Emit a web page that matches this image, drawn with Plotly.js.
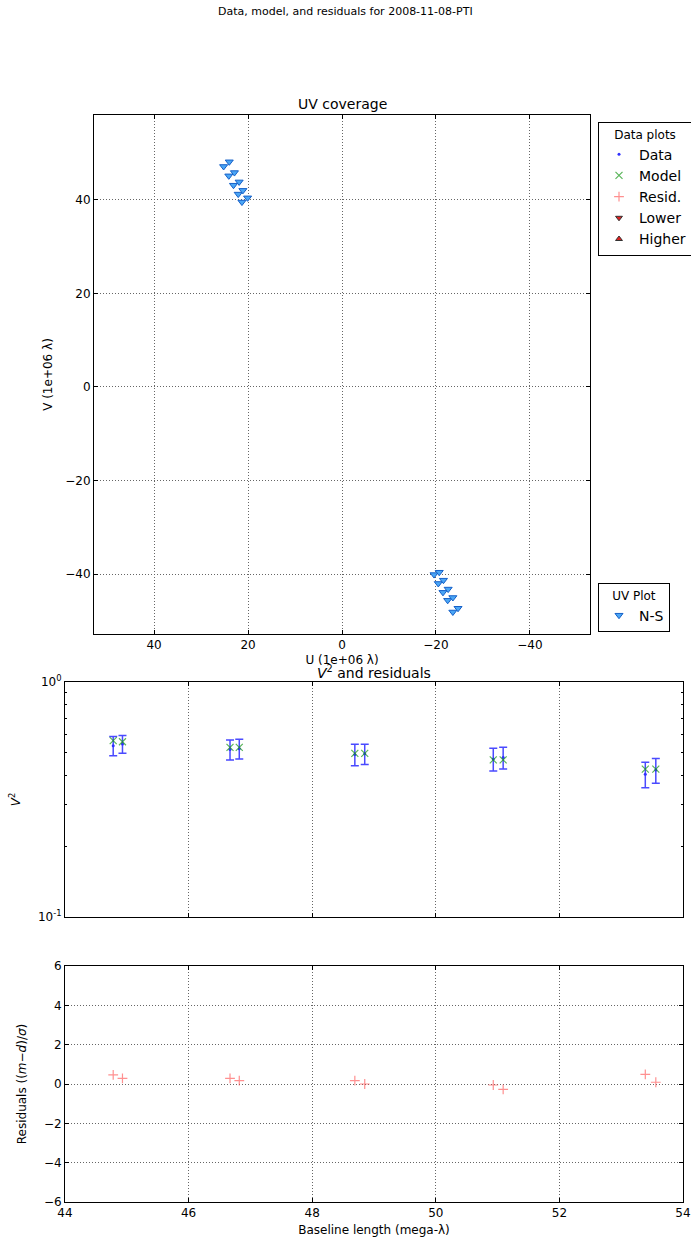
<!DOCTYPE html>
<html>
<head>
<meta charset="utf-8">
<script src="https://cdn.plot.ly/plotly-3.0.1.min.js"></script>
<style>html,body{margin:0;padding:0;background:#fff;}#chart{width:691px;height:1245px;}</style>
</head>
<body>
<div id="chart"></div>
<script>
// UV coverage (1e+06 lambda), N-S baseline
const uvU = [25.2, 24.0, 24.1, 22.9, 23.1, 21.9, 22.1, 21.1, 21.3, 20.1,
             -19.6, -20.7, -20.5, -21.6, -21.5, -22.6, -22.5, -23.6, -23.6, -24.7];
const uvV = [47.1, 48.1, 45.1, 45.8, 43.1, 43.8, 41.2, 42.0, 39.5, 40.4,
             -40.1, -39.6, -42.0, -41.3, -43.9, -43.2, -45.6, -45.0, -48.1, -47.3];

// Baseline length (mega-lambda)
const baseline = [44.78, 44.93, 46.67, 46.82, 48.69, 48.85, 50.93, 51.09, 53.39, 53.56];
// Squared visibility: data, errors, model
const v2Data  = [0.536, 0.545, 0.516, 0.520, 0.492, 0.495, 0.470, 0.477, 0.405, 0.422];
const v2Err   = [0.050, 0.047, 0.050, 0.050, 0.052, 0.049, 0.052, 0.051, 0.050, 0.051];
const v2Model = [0.563, 0.557, 0.527, 0.527, 0.497, 0.497, 0.466, 0.466, 0.426, 0.426];
// Residuals (m-d)/sigma
const resid   = [0.46, 0.29, 0.29, 0.17, 0.17, 0.00, -0.05, -0.27, 0.49, 0.09];

const uvTicks = [-40, -20, 0, 20, 40];
const resTicks = [-6, -4, -2, 0, 2, 4, 6];
const blTicks = [44, 46, 48, 50, 52, 54];
const v2Major = [0.1, 1];
const v2MajorText = ['10<sup>-1</sup>', '10<sup>0</sup>'];
const v2Minor = [0.2, 0.3, 0.4, 0.5, 0.6, 0.7, 0.8, 0.9];

const W = 691, H = 1245;
const px = x => x / W;
const py = y => 1 - y / H;

const font = {family: 'DejaVu Sans', size: 12, color: '#000'};
const gridStyle = {showgrid: true, gridcolor: '#666', griddash: '1px,2px', gridwidth: 1};
const axBase = {
  showline: true, linecolor: '#000', linewidth: 1, mirror: 'allticks',
  ticks: 'inside', ticklen: 4, tickcolor: '#000', zeroline: false,
  tickfont: {family: 'DejaVu Sans', size: 12, color: '#000'}
};

const traces = [
  {
    type: 'scatter', mode: 'markers', x: uvU, y: uvV, xaxis: 'x', yaxis: 'y',
    name: 'N-S', legend: 'legend2',
    marker: {symbol: 'triangle-down', size: 7, color: '#4aa6f5', line: {color: '#1560c8', width: 1}}
  },
  {
    type: 'scatter', mode: 'markers', x: baseline, y: v2Data, xaxis: 'x2', yaxis: 'y2',
    name: 'Data', legend: 'legend',
    marker: {size: 3, color: '#3030ff'},
    error_y: {type: 'data', array: v2Err, visible: true, color: '#4a4aff', thickness: 1.5, width: 4}
  },
  {
    type: 'scatter', mode: 'markers', x: baseline, y: v2Model, xaxis: 'x2', yaxis: 'y2',
    name: 'Model', legend: 'legend',
    marker: {symbol: 'x-thin-open', size: 7, color: 'rgba(20,150,20,0.7)', line: {width: 1.2, color: 'rgba(20,150,20,0.7)'}}
  },
  {
    type: 'scatter', mode: 'markers', x: baseline, y: resid, xaxis: 'x3', yaxis: 'y3',
    name: 'Resid.', legend: 'legend',
    marker: {symbol: 'cross-thin-open', size: 7, color: 'rgba(255,70,70,0.6)', line: {width: 1.2, color: 'rgba(255,70,70,0.6)'}}
  },
  {
    type: 'scatter', mode: 'markers', x: [null], y: [null], xaxis: 'x3', yaxis: 'y3',
    name: 'Lower', legend: 'legend',
    marker: {symbol: 'triangle-down', size: 6, color: '#e02020', line: {color: '#333', width: 1}}
  },
  {
    type: 'scatter', mode: 'markers', x: [null], y: [null], xaxis: 'x3', yaxis: 'y3',
    name: 'Higher', legend: 'legend',
    marker: {symbol: 'triangle-up', size: 6, color: '#e02020', line: {color: '#333', width: 1}}
  }
];

const layout = {
  width: W, height: H,
  margin: {l: 0, r: 0, t: 0, b: 0, autoexpand: false},
  paper_bgcolor: '#fff', plot_bgcolor: '#fff',
  font: font,
  showlegend: true,
  xaxis: Object.assign({}, axBase, gridStyle, {
    domain: [px(94), px(590)], anchor: 'y', range: [52.8, -52.8],
    tickvals: uvTicks,
    title: {text: 'U (1e+06 λ)', font: {size: 12}, standoff: 4}
  }),
  yaxis: Object.assign({}, axBase, gridStyle, {
    domain: [py(634), py(115)], anchor: 'x', range: [-52.8, 58.1],
    tickvals: uvTicks,
    title: {text: 'V (1e+06 λ)', font: {size: 12}, standoff: 10}
  }),
  xaxis2: Object.assign({}, axBase, gridStyle, {
    domain: [px(65), px(683)], anchor: 'y2', range: [44, 54],
    tickvals: blTicks, showticklabels: false
  }),
  yaxis2: Object.assign({}, axBase, {
    domain: [py(917), py(682)], anchor: 'x2', type: 'log', range: [-1, 0],
    showgrid: false,
    tickmode: 'array', tickvals: v2Major, ticktext: v2MajorText,
    minor: {tickmode: 'array', tickvals: v2Minor, ticks: 'inside', ticklen: 2, tickcolor: '#000', showgrid: false},
    title: {text: '<i>V</i><sup>2</sup>', font: {size: 12}, standoff: 14}
  }),
  xaxis3: Object.assign({}, axBase, gridStyle, {
    domain: [px(65), px(683)], anchor: 'y3', range: [44, 54],
    tickvals: blTicks,
    title: {text: 'Baseline length (mega-λ)', font: {size: 12}, standoff: 6}
  }),
  yaxis3: Object.assign({}, axBase, gridStyle, {
    domain: [py(1202), py(966)], anchor: 'x3', range: [-6, 6],
    tickvals: resTicks,
    title: {text: 'Residuals ((<i>m</i>−<i>d</i>)/<i>σ</i>)', font: {size: 12}, standoff: 14}
  }),
  legend: {
    x: px(598), y: py(122), xanchor: 'left', yanchor: 'top',
    bgcolor: '#fff', bordercolor: '#000', borderwidth: 1,
    font: {family: 'DejaVu Sans', size: 14, color: '#000'},
    title: {text: 'Data plots', font: {size: 12}, side: 'top center'},
    itemwidth: 30, tracegroupgap: 0
  },
  legend2: {
    x: px(598), y: py(583), xanchor: 'left', yanchor: 'top',
    bgcolor: '#fff', bordercolor: '#000', borderwidth: 1,
    font: {family: 'DejaVu Sans', size: 14, color: '#000'},
    title: {text: 'UV Plot', font: {size: 12}, side: 'top center'},
    itemwidth: 30
  },
  annotations: [
    {text: 'Data, model, and residuals for 2008-11-08-PTI', xref: 'paper', yref: 'paper',
     x: px(345), y: py(12), xanchor: 'center', yanchor: 'middle', showarrow: false,
     font: {size: 11}},
    {text: 'UV coverage', xref: 'paper', yref: 'paper',
     x: px(342), y: py(104), xanchor: 'center', yanchor: 'middle', showarrow: false,
     font: {size: 14}},
    {text: '<i>V</i><sup>2</sup> and residuals', xref: 'paper', yref: 'paper',
     x: px(374), y: py(672), xanchor: 'center', yanchor: 'middle', showarrow: false,
     font: {size: 14}}
  ]
};

Plotly.newPlot('chart', traces, layout, {staticPlot: true, displayModeBar: false});
</script>
</body>
</html>
